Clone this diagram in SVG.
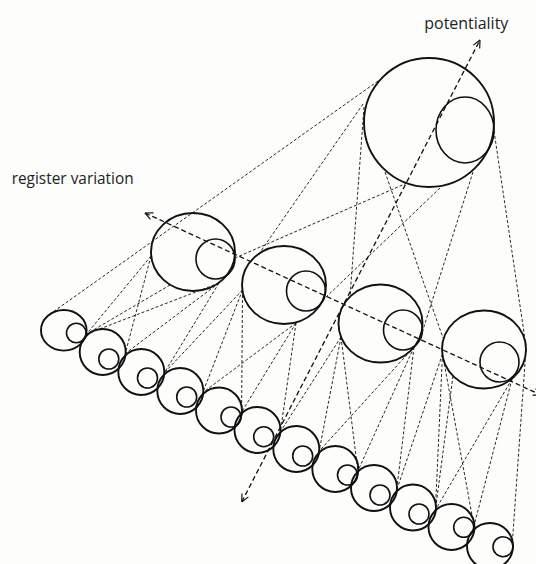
<svg xmlns="http://www.w3.org/2000/svg" width="536" height="564" viewBox="0 0 536 564">
<defs>
<marker id="chev" viewBox="0 0 10 10" refX="9.5" refY="5" markerWidth="9" markerHeight="9" markerUnits="userSpaceOnUse" orient="auto-start-reverse">
<path d="M1,1 L9.5,5 L1,9" fill="none" stroke="#111" stroke-width="1.3"/>
</marker>
<style>
.c{fill:none;stroke:#111;stroke-width:1.9}
.i{fill:none;stroke:#111;stroke-width:1.6}
.d{stroke:#111;stroke-width:0.9;stroke-dasharray:3 2;fill:none}
.ax{stroke:#111;stroke-width:1.3;stroke-dasharray:5 3;fill:none}
.t{font-family:"Open Sans","Liberation Sans",sans-serif;fill:#222}
</style>
</defs>
<rect width="536" height="564" fill="#fdfdfb"/>
<g id="connectors">
<line class="d" x1="378" y1="81" x2="53" y2="312"/>
<line class="d" x1="363" y1="104" x2="261" y2="251"/>
<line class="d" x1="364" y1="107" x2="350" y2="297"/>
<line class="d" x1="385" y1="172" x2="443" y2="338"/>
<line class="d" x1="440" y1="188" x2="323" y2="300"/>
<line class="d" x1="473" y1="172" x2="421" y2="336"/>
<line class="d" x1="494" y1="131" x2="526" y2="346"/>
<line class="d" x1="407" y1="183" x2="235" y2="258"/>
<line class="d" x1="151" y1="256" x2="86.6" y2="334"/>
<line class="d" x1="151" y1="256" x2="125.3" y2="353.5"/>
<line class="d" x1="170" y1="285" x2="86.6" y2="334"/>
<line class="d" x1="219" y1="283" x2="86.6" y2="334"/>
<line class="d" x1="219" y1="283" x2="125.3" y2="353.5"/>
<line class="d" x1="219" y1="283" x2="164.1" y2="373.1"/>
<line class="d" x1="242.5" y1="290" x2="164.1" y2="373.1"/>
<line class="d" x1="242.5" y1="290" x2="202.8" y2="392.6"/>
<line class="d" x1="242.5" y1="290" x2="241.6" y2="412.2"/>
<line class="d" x1="296" y1="323" x2="202.8" y2="392.6"/>
<line class="d" x1="296" y1="323" x2="241.6" y2="412.2"/>
<line class="d" x1="296" y1="323" x2="280.4" y2="431.8"/>
<line class="d" x1="341" y1="337" x2="280.4" y2="431.8"/>
<line class="d" x1="341" y1="337" x2="319.1" y2="451.3"/>
<line class="d" x1="341" y1="337" x2="357.9" y2="470.9"/>
<line class="d" x1="414" y1="347" x2="319.1" y2="451.3"/>
<line class="d" x1="414" y1="347" x2="357.9" y2="470.9"/>
<line class="d" x1="414" y1="347" x2="396.6" y2="490.4"/>
<line class="d" x1="442.5" y1="354" x2="396.6" y2="490.4"/>
<line class="d" x1="442.5" y1="354" x2="435.4" y2="510"/>
<line class="d" x1="442.5" y1="354" x2="474" y2="526"/>
<line class="d" x1="453" y1="376" x2="435.4" y2="510"/>
<line class="d" x1="512" y1="379" x2="435.4" y2="510"/>
<line class="d" x1="512" y1="379" x2="474" y2="526"/>
<line class="d" x1="526" y1="349" x2="512.5" y2="540"/>
<line class="ax" x1="145" y1="213" x2="541" y2="395" marker-start="url(#chev)" marker-end="url(#chev)"/>
<line class="ax" x1="241.7" y1="502" x2="480" y2="40" marker-start="url(#chev)" marker-end="url(#chev)"/>
</g>
<g id="node-P"><ellipse class="c" cx="429" cy="122.5" rx="65" ry="64.5"/><ellipse class="i" cx="465" cy="130" rx="29" ry="33"/></g>
<g id="node-A"><ellipse class="c" cx="193" cy="252" rx="42" ry="39"/><ellipse class="i" cx="215.5" cy="259" rx="19.5" ry="20"/></g>
<g id="node-B"><ellipse class="c" cx="284" cy="285" rx="42" ry="39"/><ellipse class="i" cx="306" cy="291" rx="19.5" ry="20"/></g>
<g id="node-C"><ellipse class="c" cx="380.5" cy="323.5" rx="42" ry="39"/><ellipse class="i" cx="403" cy="330" rx="19.5" ry="20"/></g>
<g id="node-D"><ellipse class="c" cx="484" cy="349.5" rx="42" ry="39"/><ellipse class="i" cx="499.5" cy="362" rx="19.5" ry="20"/></g>
<g id="node-s1"><ellipse class="c" cx="63.8" cy="330.3" rx="22.8" ry="20.3"/><circle class="i" cx="76.3" cy="333" r="9.8"/></g>
<g id="node-s2"><circle class="c" cx="102.7" cy="352" r="23"/><circle class="i" cx="108.8" cy="359" r="10"/></g>
<g id="node-s3"><circle class="c" cx="141.3" cy="372" r="23"/><circle class="i" cx="147.5" cy="378" r="10"/></g>
<g id="node-s4"><circle class="c" cx="180.3" cy="391" r="23"/><circle class="i" cx="186.7" cy="397" r="10"/></g>
<g id="node-s5"><circle class="c" cx="219" cy="410.5" r="23"/><circle class="i" cx="231" cy="417" r="10"/></g>
<g id="node-s6"><circle class="c" cx="257.5" cy="430" r="23"/><circle class="i" cx="263.7" cy="436.7" r="10"/></g>
<g id="node-s7"><circle class="c" cx="296.3" cy="449" r="23"/><circle class="i" cx="302.7" cy="456" r="10"/></g>
<g id="node-s8"><circle class="c" cx="335.3" cy="469" r="23"/><circle class="i" cx="347.5" cy="475" r="10"/></g>
<g id="node-s9"><circle class="c" cx="374" cy="488" r="23"/><circle class="i" cx="380" cy="495" r="10"/></g>
<g id="node-s10"><circle class="c" cx="413" cy="507.5" r="23"/><circle class="i" cx="419" cy="514" r="10"/></g>
<g id="node-s11"><circle class="c" cx="451.5" cy="527" r="23"/><circle class="i" cx="463.7" cy="527.3" r="10"/></g>
<g id="node-s12"><circle class="c" cx="490" cy="546" r="23"/><circle class="i" cx="503" cy="546.7" r="10"/></g>
<g id="labels">
<text class="t" x="424.3" y="29" font-size="16" textLength="84" lengthAdjust="spacingAndGlyphs">potentiality</text>
<text class="t" x="11.7" y="183.5" font-size="15.5" textLength="122" lengthAdjust="spacingAndGlyphs">register variation</text>
</g>
</svg>
